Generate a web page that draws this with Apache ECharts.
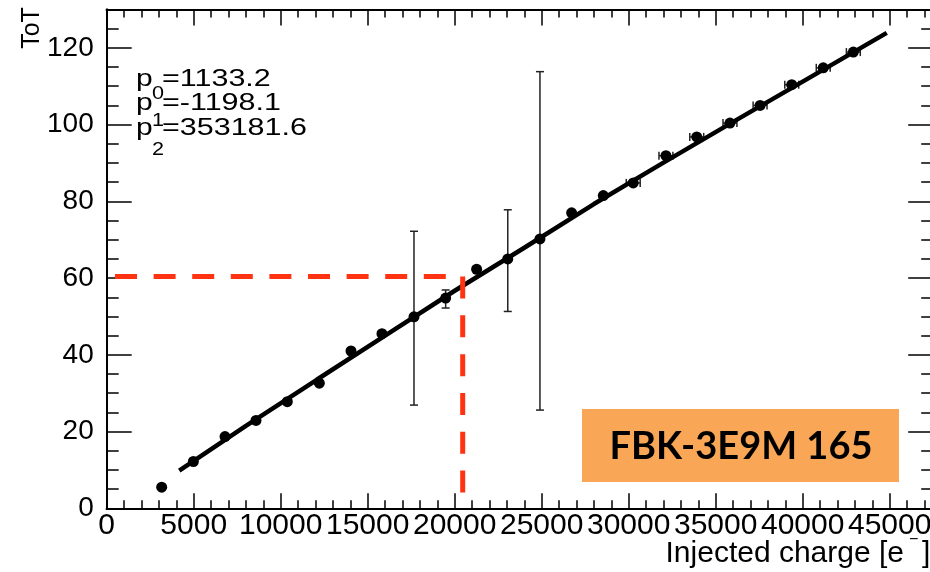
<!DOCTYPE html>
<html><head><meta charset="utf-8">
<script src="https://cdn.jsdelivr.net/npm/echarts@6/dist/echarts.min.js"></script>
<style>html,body{margin:0;padding:0;background:#fff}#c{width:930px;height:572px}</style>
</head><body><div id="c"></div>
<script>
// ---- data ----
const chargeX = [3160, 4980, 6800, 8580, 10380, 12220, 14040, 15820, 17660, 19480, 21260, 23050, 24900, 26720, 28540, 30260, 32140, 33910, 35820, 37550, 39370, 41180, 42910];
const totY    = [5.5, 12.2, 18.7, 22.9, 27.8, 32.6, 41.0, 45.5, 49.9, 54.8, 62.3, 65.0, 70.2, 77.0, 81.5, 84.8, 91.9, 96.8, 100.4, 105.0, 110.4, 114.8, 118.9];
const errLo   = [null, null, null, null, null, null, null, null, 26.9, 52.2, null, 51.3, 25.6, null, null, null, null, null, null, null, null, null, null];
const errHi   = [null, null, null, null, null, null, null, null, 72.2, 56.9, null, 77.8, 113.8, null, null, null, null, null, null, null, null, null, null];
const xErr    = [0, 0, 0, 0, 0, 0, 0, 0, 0, 0, 0, 0, 0, 0, 0, 400, 400, 400, 400, 400, 400, 400, 400];
const fitX    = [4170, 8000, 12070, 16000, 20000, 24000, 28000, 32000, 36000, 40000, 44830];
const fitY    = [9.8, 21.5, 33.5, 45.0, 56.7, 67.9, 79.3, 90.1, 100.7, 111.2, 123.9];
const refLineHX = [477, 19540];
const refLineHY = [60.4, 60.4];
const refLineVX = [20460, 20460];
const refLineVY = [60.4, 3.0];
const paramNames = ['p', 'p', 'p'];
const paramSubs = ['0', '1', '2'];
const paramValues = ['=1133.2', '=-1198.1', '=353181.6'];
const xTitle = 'Injected charge [e';
const yTitle = 'ToT';
const boxLabel = 'FBK-3E9M 165';
const xMax = 47500, yMax = 130;

// ---- chart ----
const FONT = 'Liberation Sans, Arial, sans-serif';
const chart = echarts.init(document.getElementById('c'), null, {renderer: 'canvas'});
const lineCol = '#000';
function xAx(pos, interval, tickLen, labels) {
  return {
    type: 'value', position: pos, min: 0, max: xMax, interval: interval,
    axisLine: {show: true, onZero: false, lineStyle: {color: lineCol, width: 2}},
    axisTick: {show: true, inside: true, length: tickLen, lineStyle: {color: lineCol, width: 1.5}},
    splitLine: {show: false},
    axisLabel: labels ? {show: true, color: '#000', fontSize: 30, fontFamily: FONT, margin: 2,
      formatter: v => (v % 5000 === 0 ? String(v) : '')} : {show: false}
  };
}
function yAx(pos, interval, tickLen, labels) {
  return {
    type: 'value', position: pos, min: 0, max: yMax, interval: interval,
    axisLine: {show: true, onZero: false, lineStyle: {color: lineCol, width: 2}},
    axisTick: {show: true, inside: true, length: tickLen, lineStyle: {color: lineCol, width: 1.5}},
    splitLine: {show: false},
    axisLabel: labels ? {show: true, color: '#000', fontSize: 28, fontFamily: FONT, margin: 13,
      formatter: v => (v % 20 === 0 && v <= 120 ? String(v) : '')} : {show: false}
  };
}

const pts = chargeX.map((x, i) => [x, totY[i]]);
const errData = chargeX.map((x, i) => [x, totY[i], errLo[i] == null ? totY[i] : errLo[i], errHi[i] == null ? totY[i] : errHi[i], xErr[i]]);

const paramGraphics = [];
const lineCenters = [79, 103.5, 128];
const subCenters = [94, 121, 150];
for (let i = 0; i < 3; i++) {
  paramGraphics.push({type: 'text', x: 136, y: lineCenters[i], z: 20, scaleX: 1.25,
    style: {text: paramNames[i], font: '24px ' + FONT, fill: '#000', verticalAlign: 'middle'}});
  paramGraphics.push({type: 'text', x: 162, y: lineCenters[i], z: 20, scaleX: 1.27,
    style: {text: paramValues[i], font: '24px ' + FONT, fill: '#000', verticalAlign: 'middle'}});
  paramGraphics.push({type: 'text', x: 152, y: subCenters[i], z: 20, scaleX: 1.2,
    style: {text: paramSubs[i], font: '18px ' + FONT, fill: '#000', verticalAlign: 'middle'}});
}

chart.setOption({
  animation: false,
  backgroundColor: '#fff',
  grid: {left: 106.7, top: 9.5, width: 826.5, height: 498.8, outerBoundsMode: 'none', containLabel: false},
  xAxis: [xAx('bottom', 5000, 15, true), xAx('bottom', 1000, 8, false), xAx('top', 5000, 16, false), xAx('top', 1000, 8, false)],
  yAxis: [yAx('left', 20, 25, true), yAx('left', 5, 12, false), yAx('right', 20, 25, false), yAx('right', 5, 12, false)],
  series: [
    {
      type: 'custom', xAxisIndex: 0, yAxisIndex: 0, z: 2, data: errData,
      renderItem: function (params, api) {
        const x = api.value(0), y = api.value(1), lo = api.value(2), hi = api.value(3), xe = api.value(4);
        const children = [];
        const st = {stroke: '#222', lineWidth: 1.5, fill: null};
        if (hi > lo) {
          const a = api.coord([x, hi]), b = api.coord([x, lo]);
          children.push({type: 'line', shape: {x1: a[0], y1: a[1], x2: b[0], y2: b[1]}, style: st});
          children.push({type: 'line', shape: {x1: a[0] - 4, y1: a[1], x2: a[0] + 4, y2: a[1]}, style: st});
          children.push({type: 'line', shape: {x1: b[0] - 4, y1: b[1], x2: b[0] + 4, y2: b[1]}, style: st});
        }
        if (xe > 0) {
          const l = api.coord([x - xe, y]), r = api.coord([x + xe, y]);
          children.push({type: 'line', shape: {x1: l[0], y1: l[1], x2: r[0], y2: r[1]}, style: st});
          children.push({type: 'line', shape: {x1: l[0], y1: l[1] - 4, x2: l[0], y2: l[1] + 4}, style: st});
          children.push({type: 'line', shape: {x1: r[0], y1: r[1] - 4, x2: r[0], y2: r[1] + 4}, style: st});
        }
        return {type: 'group', children: children};
      }
    },
    {type: 'scatter', xAxisIndex: 0, yAxisIndex: 0, z: 3, data: pts, symbol: 'circle', symbolSize: 11,
      itemStyle: {color: '#000', opacity: 1}},
    {type: 'line', xAxisIndex: 0, yAxisIndex: 0, z: 4, data: fitX.map((x, i) => [x, fitY[i]]),
      showSymbol: false, symbol: 'none', lineStyle: {color: '#000', width: 4.5}},
    {type: 'line', xAxisIndex: 0, yAxisIndex: 0, z: 5, data: refLineHX.map((x, i) => [x, refLineHY[i]]),
      symbol: 'none', lineStyle: {color: '#ff3311', width: 5, type: [22, 16.6]}},
    {type: 'line', xAxisIndex: 0, yAxisIndex: 0, z: 5, data: refLineVX.map((x, i) => [x, refLineVY[i]]),
      symbol: 'none', lineStyle: {color: '#ff3311', width: 5, type: [22, 16.8]}}
  ],
  graphic: [
    {type: 'rect', shape: {x: 582, y: 409, width: 317, height: 73}, style: {fill: '#F9A757'}, z: 10},
    {type: 'text', x: 741, y: 447, z: 11,
      style: {text: boxLabel, font: 'bold 38px Lato, "Open Sans", sans-serif', fill: '#000', align: 'center', verticalAlign: 'middle'}},
    {type: 'text', x: 32, y: 28, rotation: Math.PI / 2, z: 11,
      style: {text: yTitle, font: '25px ' + FONT, fill: '#000', align: 'center', verticalAlign: 'middle'}},
    {type: 'text', x: 904, y: 554, z: 11,
      style: {text: xTitle, font: '30px ' + FONT, fill: '#000', align: 'right', verticalAlign: 'middle'}},
    {type: 'text', x: 909, y: 540, z: 11,
      style: {text: '\u2212', font: '16px ' + FONT, fill: '#000', align: 'left', verticalAlign: 'middle'}},
    {type: 'text', x: 922, y: 554, z: 11,
      style: {text: ']', font: '30px ' + FONT, fill: '#000', align: 'left', verticalAlign: 'middle'}}
  ].concat(paramGraphics)
});
</script>
</body></html>
